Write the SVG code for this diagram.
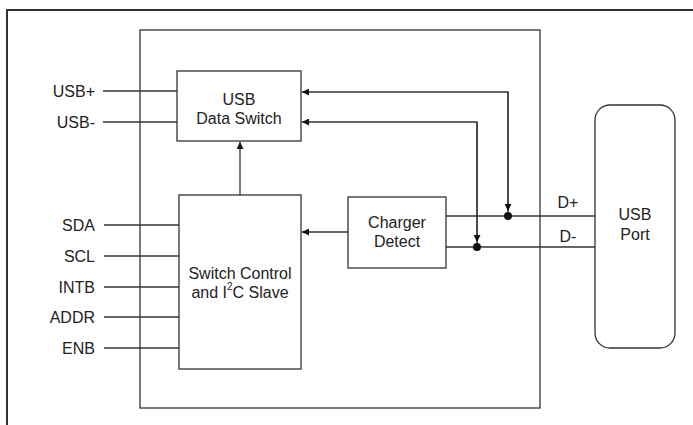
<svg xmlns="http://www.w3.org/2000/svg" width="693" height="425" viewBox="0 0 693 425">
<defs>
<style>
.box{fill:#fff;stroke:#333;stroke-width:1.3}
.ln{fill:none;stroke:#333;stroke-width:1.3}
.t{font-family:"Liberation Sans",Arial,sans-serif;font-size:16px;fill:#222}
.m{text-anchor:middle}
.e{text-anchor:end}
</style>
<marker id="ah" viewBox="0 0 10 10" refX="10" refY="5" markerWidth="9" markerHeight="7" markerUnits="userSpaceOnUse" orient="auto">
<path d="M0,0 L10,5 L0,10 z" fill="#111"/>
</marker>
</defs>
<rect width="693" height="425" fill="#fff"/>
<rect id="frame" x="7" y="10" width="720" height="440" fill="none" stroke="#333" stroke-width="2"/>
<g id="chip"><rect class="box" x="140" y="30" width="400" height="378" fill="none"/></g>
<g id="connectors">
<path class="ln" d="M103,91 H177"/>
<path class="ln" d="M103,122 H177"/>
<path class="ln" d="M104,225 H179"/>
<path class="ln" d="M104,256 H179"/>
<path class="ln" d="M104,287 H179"/>
<path class="ln" d="M104,317 H179"/>
<path class="ln" d="M104,348 H179"/>
<path class="ln" d="M240,195 V142" marker-end="url(#ah)"/>
<path class="ln" d="M348,232 H302" marker-end="url(#ah)"/>
<path class="ln" d="M446,216 H595"/>
<path class="ln" d="M446,247 H595"/>
<path class="ln" d="M508,216 V92 H302" marker-end="url(#ah)"/>
<path class="ln" d="M477,247 V122 H302" marker-end="url(#ah)"/>
<path class="ln" d="M508,92 V211" marker-end="url(#ah)"/>
<path class="ln" d="M477,122 V242" marker-end="url(#ah)"/>
<circle cx="508" cy="216" r="4" fill="#111"/>
<circle cx="477" cy="247" r="4" fill="#111"/>
</g>
<g id="switch"><rect class="box" x="177" y="71" width="124" height="70"/>
<text class="t m" x="239" y="105">USB</text><text class="t m" x="239" y="124">Data Switch</text></g>
<g id="control"><rect class="box" x="179" y="195" width="122" height="174"/>
<text class="t m" x="240" y="279">Switch Control</text>
<text class="t m" x="240" y="298">and I<tspan font-size="10" dy="-8">2</tspan><tspan dy="8">C Slave</tspan></text></g>
<g id="charger"><rect class="box" x="348" y="197" width="98" height="71"/>
<text class="t m" x="397" y="228">Charger</text><text class="t m" x="397" y="247">Detect</text></g>
<g id="port"><rect class="box" x="595" y="105" width="80" height="243" rx="15" ry="15"/>
<text class="t m" x="635" y="220">USB</text><text class="t m" x="635" y="240">Port</text></g>
<g id="labels">
<text class="t e" x="95" y="97">USB+</text>
<text class="t e" x="95" y="128">USB-</text>
<text class="t e" x="95" y="231">SDA</text>
<text class="t e" x="95" y="262">SCL</text>
<text class="t e" x="95" y="293">INTB</text>
<text class="t e" x="95" y="323">ADDR</text>
<text class="t e" x="95" y="354">ENB</text>
<text class="t m" x="568" y="208">D+</text>
<text class="t m" x="568" y="242">D-</text>
</g>
</svg>
